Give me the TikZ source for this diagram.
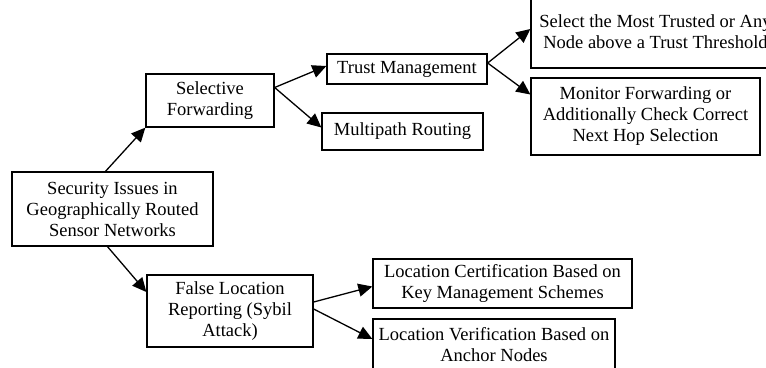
\documentclass[tikz,border=0pt]{standalone}
\usepackage{fontspec}
\setmainfont{Liberation Serif}
\usetikzlibrary{arrows.meta}
\newcommand{\boxfont}{\fontsize{18.5}{21}\selectfont}
\tikzset{box/.style={draw, align=center, inner sep=1pt, font=\boxfont}}
\tikzset{link/.style={-{Triangle[length=14pt,width=13pt]}}}

\begin{document}
\begin{tikzpicture}[x=1pt,y=-1pt,line width=1.3pt]
\useasboundingbox (0,0) rectangle (766,367);
\clip (0,0) rectangle (766,367);

%root
\node[box, minimum width=201pt, minimum height=74pt] (sec) at (112.5,209) {Security Issues in\\Geographically Routed\\Sensor Networks};

%upper branch
\node[box, minimum width=128pt, minimum height=53pt] (sel) at (210,100.5) {Selective\\Forwarding};
\node[box, minimum width=160pt, minimum height=30pt] (trust) at (407,69) {Trust Management};
\node[box, minimum width=161pt, minimum height=37pt] (multi) at (402.5,131.5) {Multipath Routing};
\node[box, minimum width=249pt, minimum height=72pt] (most) at (655.5,32) {Select the Most Trusted or Any\\Node above a Trust Threshold};
\node[box, minimum width=229pt, minimum height=77pt] (mon) at (645.5,116.5) {Monitor Forwarding or\\Additionally Check Correct\\Next Hop Selection};

%lower branch
\node[box, minimum width=166pt, minimum height=72pt] (false) at (230,311) {False Location\\Reporting (Sybil\\Attack)};
\node[box, minimum width=259pt, minimum height=49pt] (cert) at (502.5,283.5) {Location Certification Based on\\Key Management Schemes};
\node[box, minimum width=242pt, minimum height=52pt] (verif) at (494,345) {Location Verification Based on\\Anchor Nodes};

\draw[link] ([xshift=-7pt]sec.north) -- (sel.south west);
\draw[link] ([yshift=13pt]sel.east) -- ([yshift=3pt]trust.west);
\draw[link] ([yshift=13pt]sel.east) -- ([yshift=4pt]multi.west);
\draw[link] ([yshift=6pt]trust.east) -- ([yshift=3pt]most.west);
\draw[link] ([yshift=6pt]trust.east) -- ([yshift=22pt]mon.west);
\draw[link] ([xshift=-5pt]sec.south) -- ([yshift=19pt]false.west);
\draw[link] ([yshift=9pt]false.east) -- ([yshift=-3pt]cert.west);
\draw[link] ([yshift=2pt]false.east) -- ([yshift=6pt]verif.west);
\end{tikzpicture}
\end{document}
